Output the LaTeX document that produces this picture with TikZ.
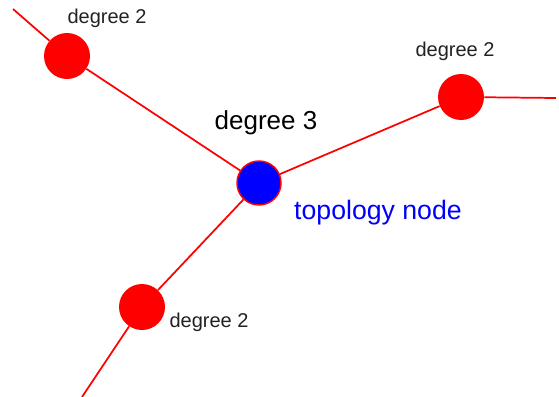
\documentclass[tikz,border=0pt]{standalone}
\usepackage{fontspec}
\setmainfont{Liberation Sans}
\usetikzlibrary{positioning}
\definecolor{tp-red}{HTML}{FF0000}
\definecolor{tp-blue}{HTML}{0000FF}
\definecolor{tp-text}{HTML}{222222}

\begin{document}
\begin{tikzpicture}[x=0.75pt, y=-0.75pt]

  % Global Style Definitions
  \tikzset{
    vertex/.style={circle, fill=tp-red, inner sep=0pt, minimum size=34.5pt},
    topo/.style={circle, fill=tp-blue, draw=tp-red, line width=1.1pt, inner sep=0pt, minimum size=33pt},
    link/.style={draw=tp-red, line width=1.3pt},
    small/.style={text=tp-text, font=\fontsize{15}{18}\selectfont, inner sep=0pt},
    big/.style={font=\fontsize{19.5}{23}\selectfont, inner sep=0pt}
  }

  \useasboundingbox (0,0) rectangle (559,396);

  % Free line ends at the border
  \coordinate (endA) at (13,9);
  \coordinate (endB) at (556,98);
  \coordinate (endC) at (82,397);

  % Red degree-2 vertices
  \node (degA) [vertex] at (67,56) {};
  \node (degB) [vertex] at (461,97) {};
  \node (degC) [vertex] at (142,307) {};

  % Blue topology node
  \node (hub) [topo] at (259,183) {};

  % Edges
  \draw[link] (endA) -- (degA);
  \draw[link] (degA) -- (hub);
  \draw[link] (hub) -- (degB);
  \draw[link] (degB) -- (endB);
  \draw[link] (hub) -- (degC);
  \draw[link] (degC) -- (endC);

  % Labels
  \node (labA) [small] at (107,18) {degree 2};
  \node (labB) [small] at (455,51) {degree 2};
  \node (labC) [small] at (209,322) {degree 2};
  \node (labHub) [big] at (266,123) {degree 3};
  \node (labTopo) [big, text=tp-blue, font=\fontsize{20}{24}\selectfont] at (378,213) {topology node};

\end{tikzpicture}
\end{document}
